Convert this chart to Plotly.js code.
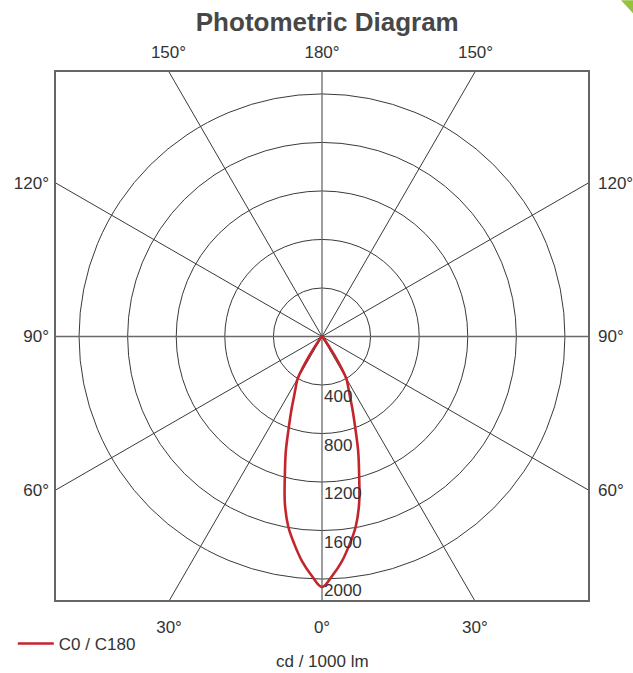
<!DOCTYPE html>
<html>
<head>
<meta charset="utf-8">
<script src="https://cdn.plot.ly/plotly-3.0.1.min.js"></script>
<style>
  html, body { margin: 0; padding: 0; background: #ffffff; }
  #chart { width: 633px; height: 673px; }
</style>
</head>
<body>
<div id="chart"></div>
<script>
// ---- data ----
const gammaDeg = [0, 2.5, 5, 7.5, 10, 12.5, 15, 17.5, 20, 22.5, 25, 27.5, 30, 32.5, 35, 37.5, 40];
const intensityC0C180 = [2066, 1973, 1864, 1731, 1595, 1412, 1181, 990, 800, 660, 545, 465, 400, 250, 110, 30, 0];
const seriesName = "C0 / C180";
const radialTicks = [400, 800, 1200, 1600, 2000];
const spokeAngles = [0, 30, 60, 90, 120, 150, 180, 210, 240, 270, 300, 330];
const bottomAngles = [-30, 0, 30];
const bottomLabels = ["30°", "0°", "30°"];
const topAngles = [-30, 0, 30];          // measured from straight up
const topLabels = ["150°", "180°", "150°"];
const sideAngles = [30, 0, -30];         // measured from horizontal (up positive)
const sideLabels = ["120°", "90°", "60°"];
const unitLabel = "cd / 1000 lm";

// ---- layout constants ----
const xRange = [-2198, 2198];
const yRange = [-2181, 2189];
const rad = d => d * Math.PI / 180;
const gridColor = "#3a3a3a";
const textColor = "#333333";
const fontFamily = "Liberation Sans, Arial, sans-serif";

// curve: C180 side on the left, C0 on the right
const cx = [], cy = [];
for (let i = gammaDeg.length - 1; i >= 0; i--) {
  cx.push(-intensityC0C180[i] * Math.sin(rad(gammaDeg[i])));
  cy.push(-intensityC0C180[i] * Math.cos(rad(gammaDeg[i])));
}
for (let i = 1; i < gammaDeg.length; i++) {
  cx.push(intensityC0C180[i] * Math.sin(rad(gammaDeg[i])));
  cy.push(-intensityC0C180[i] * Math.cos(rad(gammaDeg[i])));
}

const shapes = [];
radialTicks.forEach(r => {
  shapes.push({type: "circle", xref: "x", yref: "y", x0: -r, x1: r, y0: -r, y1: r,
    line: {color: gridColor, width: 1}, layer: "below"});
});
spokeAngles.forEach(a => {
  const far = 6000;
  shapes.push({type: "line", xref: "x", yref: "y", x0: 0, y0: 0,
    x1: far * Math.sin(rad(a)), y1: -far * Math.cos(rad(a)),
    line: {color: (a % 90 === 0) ? "#6a6a6a" : gridColor, width: (a % 90 === 0) ? 1.3 : 1}, layer: "below"});
});
// frame
shapes.push({type: "rect", xref: "paper", yref: "paper", x0: 0, x1: 1, y0: 0, y1: 1,
  line: {color: "#666666", width: 2}});
// green corner decoration
shapes.push({type: "path", xref: "paper", yref: "paper",
  path: "M 1.060 1.1337 L 1.0843 1.1337 L 1.0843 1.107 Z",
  fillcolor: "#94c23d", line: {width: 0}});

const labelFont = {family: fontFamily, size: 17, color: textColor};
const annotations = radialTicks.map(r => ({
  x: 0, y: -r, xref: "x", yref: "y", text: String(r), showarrow: false,
  xanchor: "left", yanchor: "top", xshift: 0, yshift: 0,
  font: labelFont
}));
annotations.push({x: 0, y: -0.115, xref: "x", yref: "paper", text: unitLabel, showarrow: false,
  xanchor: "center", yanchor: "middle", font: labelFont});

const data = [
  {x: cx, y: cy, type: "scatter", mode: "lines", name: seriesName,
   line: {color: "#c4252c", width: 2.6, shape: "spline", smoothing: 1}, hoverinfo: "skip"},
  {x: [0], y: [0], xaxis: "x2", yaxis: "y2", type: "scatter", mode: "markers",
   marker: {opacity: 0}, showlegend: false, hoverinfo: "skip"}
];

const layout = {
  width: 633, height: 673,
  margin: {l: 55, r: 44, t: 71, b: 71},
  paper_bgcolor: "#ffffff", plot_bgcolor: "#ffffff",
  title: {text: "Photometric Diagram", x: 0.517, xanchor: "center", y: 0.967, yanchor: "middle",
    font: {family: fontFamily, size: 26, color: "#474747", weight: "bold"}},
  showlegend: true,
  legend: {x: -0.079, y: -0.045, xanchor: "left", yanchor: "top", bgcolor: "rgba(0,0,0,0)",
    font: labelFont, itemwidth: 36},
  xaxis: {range: xRange, showgrid: false, zeroline: false, showline: false, automargin: false,
    tickmode: "array",
    tickvals: bottomAngles.map(a => -yRange[0] * Math.tan(rad(a))),
    ticktext: bottomLabels, ticks: "", ticklabelstandoff: 14, tickfont: labelFont, fixedrange: true},
  yaxis: {range: yRange, showgrid: false, zeroline: false, showline: false, automargin: false,
    tickmode: "array",
    tickvals: sideAngles.map(a => -xRange[0] * Math.tan(rad(a))),
    ticktext: sideLabels, ticks: "", ticklabelstandoff: 5, tickfont: labelFont, fixedrange: true},
  xaxis2: {range: xRange, overlaying: "x", side: "top", showgrid: false, zeroline: false, automargin: false,
    tickmode: "array",
    tickvals: topAngles.map(a => yRange[1] * Math.tan(rad(a))),
    ticktext: topLabels, ticks: "", ticklabelstandoff: 9, tickfont: labelFont, fixedrange: true},
  yaxis2: {range: yRange, overlaying: "y", side: "right", showgrid: false, zeroline: false, automargin: false,
    tickmode: "array",
    tickvals: sideAngles.map(a => xRange[1] * Math.tan(rad(a))),
    ticktext: sideLabels, ticks: "", ticklabelstandoff: 8, tickfont: labelFont, fixedrange: true},
  shapes: shapes,
  annotations: annotations
};

Plotly.newPlot("chart", data, layout, {displayModeBar: false, staticPlot: true});
</script>
</body>
</html>
